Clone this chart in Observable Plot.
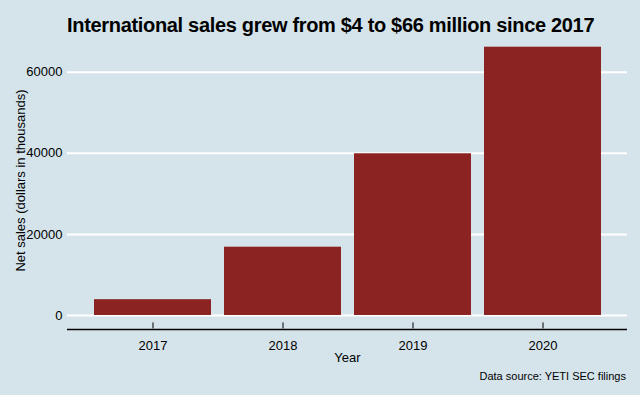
<!DOCTYPE html>
<html>
<head>
<meta charset="utf-8">
<script src="https://cdn.jsdelivr.net/npm/d3@7"></script>
<script src="https://cdn.jsdelivr.net/npm/@observablehq/plot@0.6"></script>
<style>
  html, body { margin: 0; padding: 0; background: #d5e4eb; width: 640px; height: 395px; overflow: hidden; }
  body { font-family: "Liberation Sans", Arial, sans-serif; color: #000; }
  #title { height: 40px; box-sizing: border-box; padding-top: 15px; padding-left: 67px; font-size: 20px; line-height: 20px; font-weight: bold; letter-spacing: -0.32px; white-space: nowrap; }
  #chart { height: 330px; }
  #chart svg { display: block; overflow: visible; }
  #caption { height: 25px; box-sizing: border-box; text-align: right; padding-right: 14px; font-size: 11px; line-height: 12px; }
</style>
</head>
<body>
<div id="title">International sales grew from $4 to $66 million since 2017</div>
<div id="chart"></div>
<div id="caption">Data source: YETI SEC filings</div>
<script>
const years = ["2017", "2018", "2019", "2020"];
const sales = [3900, 16840, 39880, 66160];
const yTicks = [0, 20000, 40000, 60000];
const xTitle = "Year";
const yTitle = "Net sales (dollars in thousands)";

const data = years.map((year, i) => ({year, sales: sales[i]}));
const yMax = d3.max(sales);
const yMin = -0.05 * yMax;

const chart = Plot.plot({
  width: 640,
  height: 330,
  marginLeft: 67,
  marginRight: 13,
  marginTop: 6.7,
  marginBottom: 41.6,
  style: {background: "transparent", fontFamily: "'Liberation Sans', Arial, sans-serif", fontSize: "13px", color: "#000", overflow: "visible"},
  x: {domain: years, paddingInner: 0.1, paddingOuter: 0.196, label: null},
  y: {domain: [yMin, yMax], label: null},
  marks: [
    Plot.ruleY(yTicks, {stroke: "white", strokeWidth: 2}),
    Plot.barY(data, {x: "year", y: "sales", fill: "#8B2323"}),
    Plot.ruleY([yMin], {stroke: "#000", strokeWidth: 1.3, dy: 0.6}),
    Plot.axisX({tickSize: 6, dy: -6, tickFormat: () => "", label: null, stroke: "#000"}),
    Plot.axisX({tickSize: 0, tickPadding: 12, label: null, fill: "#000"}),
    Plot.axisY({ticks: yTicks, tickSize: 0, tickPadding: 5, label: null, tickFormat: d3.format("d"), fill: "#000"}),
    Plot.text([xTitle], {frameAnchor: "bottom", lineAnchor: "middle", textAnchor: "middle", dy: 29.4, text: d => d, fill: "#000", fontSize: 13}),
    Plot.text([yTitle], {frameAnchor: "left", lineAnchor: "middle", textAnchor: "middle", rotate: -90, dx: -47, dy: -7.5, text: d => d, fill: "#000", fontSize: 13})
  ]
});
document.getElementById("chart").appendChild(chart);
</script>
</body>
</html>
